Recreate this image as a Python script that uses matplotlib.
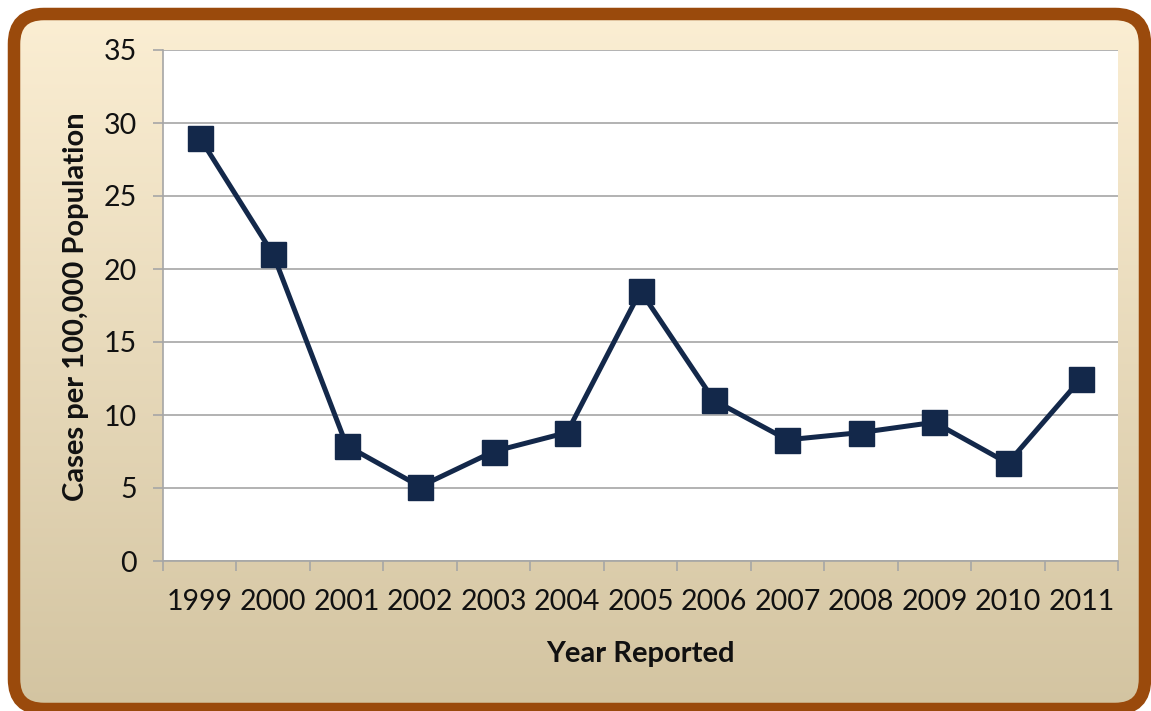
import numpy as np
import matplotlib.pyplot as plt
from matplotlib.patches import FancyBboxPatch

years = ['1999', '2000', '2001', '2002', '2003', '2004', '2005',
         '2006', '2007', '2008', '2009', '2010', '2011']
cases = [29.0, 21.0, 7.9, 5.1, 7.5, 8.8, 18.5, 11.0, 8.3, 8.8, 9.5, 6.7, 12.5]
yticks = [0, 5, 10, 15, 20, 25, 30, 35]

W, H = 1151, 711
navy = '#13284a'
grid_c = '#a6a6a6'

plt.rcParams['font.family'] = ['Lato', 'DejaVu Sans']

fig = plt.figure(figsize=(W / 100, H / 100), dpi=100)
fig.patch.set_facecolor('white')

# background: rounded frame with a cream-to-tan gradient
bg = fig.add_axes([0, 0, 1, 1])
bg.set_xlim(0, W)
bg.set_ylim(H, 0)
bg.axis('off')
grad = np.linspace(0, 1, 256).reshape(-1, 1)
top = np.array([252, 239, 212]) / 255
bot = np.array([211, 196, 161]) / 255
img = top + (bot - top) * grad[..., None]
frame = FancyBboxPatch((14, 14), W - 20, H - 16,
                       boxstyle='round,pad=0,rounding_size=30',
                       facecolor='none', edgecolor='#9a4a0c', linewidth=9,
                       zorder=3)
bg.add_patch(frame)
im = bg.imshow(img, extent=[0, W, H, 0], aspect='auto', zorder=1)
im.set_clip_path(frame)

ax = fig.add_axes([163 / W, (H - 561) / H, (1118 - 163) / W, (561 - 50) / H])
ax.set_facecolor('white')
x = np.arange(len(years))
ax.plot(x, cases, color=navy, linewidth=3.6, marker='s', markersize=18,
        markerfacecolor=navy, markeredgecolor=navy, zorder=3, clip_on=False)

ax.set_xlim(-0.5, len(years) - 0.5)
ax.set_ylim(0, 35)
ax.set_yticks(yticks)
ax.set_xticks(x)
ax.set_xticklabels(years)
ax.set_xticks(np.arange(-0.5, len(years)), minor=True)
ax.tick_params(axis='x', which='major', length=0, pad=20, labelsize=20.5,
               labelcolor='#111111')
ax.tick_params(axis='x', which='minor', length=7, width=1.2, color=grid_c,
               direction='out')
ax.tick_params(axis='y', length=7, width=1.2, color=grid_c, pad=12,
               labelsize=20.5, labelcolor='#111111')
ax.yaxis.grid(True, color=grid_c, linewidth=1.2)
ax.set_axisbelow(True)
for s in ['top', 'right']:
    ax.spines[s].set_visible(False)
for s in ['left', 'bottom']:
    ax.spines[s].set_color(grid_c)
    ax.spines[s].set_linewidth(1.2)

fig.text(76 / W, 1 - 307 / H, 'Cases per 100,000 Population', rotation=90,
         ha='center', va='center', fontsize=21, fontweight='bold',
         color='#111111')
fig.text(640 / W, 1 - 654 / H, 'Year Reported', ha='center', va='center',
         fontsize=21, fontweight='bold', color='#111111')

fig.savefig('out.png', dpi=100)
